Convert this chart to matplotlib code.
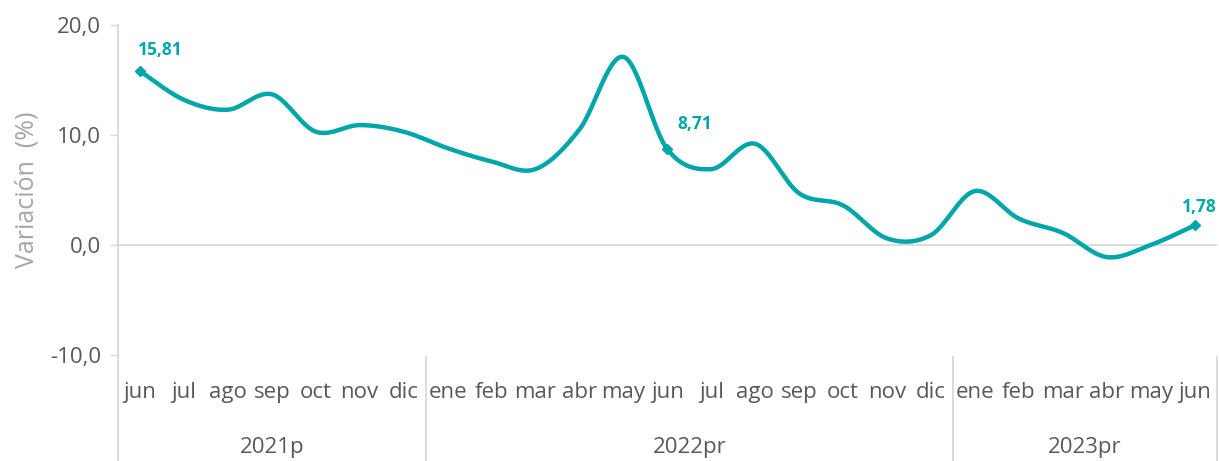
import numpy as np
import matplotlib
matplotlib.use("Agg")
import matplotlib.pyplot as plt
import matplotlib.transforms as mtransforms

plt.rcParams['font.family'] = ['Open Sans', 'DejaVu Sans']

# data
meses = ['jun', 'jul', 'ago', 'sep', 'oct', 'nov', 'dic',
         'ene', 'feb', 'mar', 'abr', 'may', 'jun', 'jul', 'ago', 'sep', 'oct', 'nov', 'dic',
         'ene', 'feb', 'mar', 'abr', 'may', 'jun']
anios = ['2021p', '2022pr', '2023pr']
anio_n = [7, 12, 6]
variacion = [15.81, 13.2, 12.3, 13.7, 10.3, 10.9, 10.3,
             8.8, 7.6, 6.9, 10.5, 17.1, 8.71, 6.9, 9.2, 4.7, 3.6, 0.6, 0.9,
             4.9, 2.4, 1.1, -1.1, 0.0, 1.78]
etiquetas = {0: '15,81', 12: '8,71', 24: '1,78'}
desplaz = {0: (20, 21), 12: (27, 25), 24: (5, 18)}

teal = '#00A6A8'
gris = '#595959'
linea = '#D9D9D9'


def suave(x, y, n=30):
    # catmull-rom through the points, like Excel "smoothed line"
    x = np.asarray(x, float)
    y = np.asarray(y, float)
    px = np.concatenate([[x[0]], x, [x[-1]]])
    py = np.concatenate([[y[0]], y, [y[-1]]])
    xs, ys = [], []
    t = np.linspace(0, 1, n)
    for i in range(1, len(px) - 2):
        p0 = np.array([px[i], py[i]])
        p3 = np.array([px[i + 1], py[i + 1]])
        c1 = p0 + (np.array([px[i + 1], py[i + 1]]) - np.array([px[i - 1], py[i - 1]])) / 6
        c2 = p3 - (np.array([px[i + 2], py[i + 2]]) - np.array([px[i], py[i]])) / 6
        b = ((1 - t) ** 3)[:, None] * p0 + (3 * (1 - t) ** 2 * t)[:, None] * c1 \
            + (3 * (1 - t) * t ** 2)[:, None] * c2 + (t ** 3)[:, None] * p3
        xs.extend(b[:, 0])
        ys.extend(b[:, 1])
    return np.array(xs), np.array(ys)


fig = plt.figure(figsize=(12.19, 4.61), dpi=100)
ax = fig.add_axes([0.0968, 0.2299, 0.9012, 0.7159])

x = np.arange(len(variacion))
sx, sy = suave(x, variacion)
ax.plot(sx, sy, color=teal, lw=3.2, solid_capstyle='round', zorder=3)

for i, txt in etiquetas.items():
    ax.plot(x[i], variacion[i], marker='D', ms=5.5, color=teal, zorder=4)
    ax.annotate(txt, (x[i], variacion[i]), xytext=desplaz[i], textcoords='offset pixels',
                ha='center', va='center', color=teal, fontsize=12.5, fontweight='bold')

ax.set_xlim(-0.5, len(variacion) - 0.5)
ax.set_ylim(-10, 20)
ax.set_yticks([-10, 0, 10, 20])
ax.set_yticklabels(['-10,0', '0,0', '10,0', '20,0'])
ax.tick_params(axis='y', length=6, width=1, color=linea, labelcolor=gris, labelsize=16, pad=6)
ax.set_xticks([])
ax.axhline(0, color=linea, lw=1.3, zorder=1)

for s in ['top', 'right', 'bottom', 'left']:
    ax.spines[s].set_visible(False)

ax.set_ylabel('Variación  (%)', color='#A6A6A6', fontsize=18, labelpad=8)

trans = mtransforms.blended_transform_factory(ax.transData, ax.transAxes)
# left axis line down through the category area
ax.plot([-0.5, -0.5], [1, -0.321], color=linea, lw=1.3, transform=trans, clip_on=False)

for i, m in enumerate(meses):
    ax.text(i, -0.115, m, transform=trans, ha='center', va='center', fontsize=16, color=gris)

inicio = 0
for a, n in zip(anios, anio_n):
    fin = inicio + n
    ax.text((inicio + fin - 1) / 2, -0.28, a, transform=trans, ha='center', va='center',
            fontsize=16, color=gris)
    ax.plot([fin - 0.5, fin - 0.5], [-0.006, -0.321], color=linea, lw=1.3,
            transform=trans, clip_on=False)
    inicio = fin

fig.savefig('out.png', dpi=100)
